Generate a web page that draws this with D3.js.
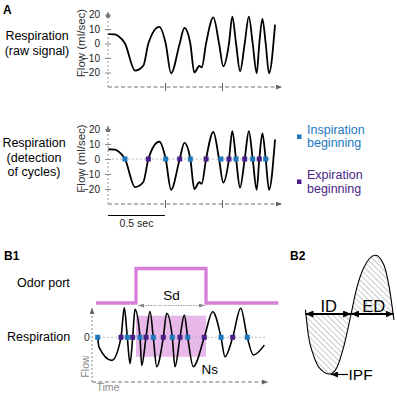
<!DOCTYPE html>
<html><head><meta charset="utf-8">
<script src="https://cdn.jsdelivr.net/npm/d3@7"></script>
<style>
body{margin:0;background:#fff}
svg{display:block}
text{font-family:"Liberation Sans",Arial,Helvetica,sans-serif}
</style>
</head><body>
<svg id="c" width="397" height="393"></svg>
<script>
// ---------- DATA ----------
// Panel A: respiration signal (time in s, flow in ml/sec)
const respTime = [0.003, 0.06, 0.09, 0.149, 0.237, 0.31, 0.354, 0.45, 0.506, 0.553, 0.629, 0.67, 0.722, 0.757, 0.801, 0.822, 0.86, 0.924, 0.974, 1.011, 1.061, 1.09, 1.123, 1.158, 1.199, 1.235, 1.269, 1.304, 1.327, 1.354, 1.383, 1.412, 1.465];
const respFlow = [6.5, 6.3, 5.2, 0, -18.7, -15.3, 0, 11.5, 0, -20.5, 0, 10.8, 0, -20, -15.5, -16.5, 0, 18, 0, -15.8, 0, 18.5, 0, -19.1, 0, 18.5, 0, -20.5, 0, 17, 0, -20.5, 13];
const inspTimes = [0.149, 0.506, 0.722, 0.991, 1.123, 1.269, 1.383];
const expTimes = [0.354, 0.629, 0.86, 1.061, 1.199, 1.327];
const flowTicks = [-20, -10, 0, 10, 20];
const timeTicks = [0.5, 1.0];
const scaleBar = [0, 0.5];

// Panel B1
const b1Time = [0.057, 0.07, 0.197, 0.29, 0.323, 0.353, 0.38, 0.407, 0.43, 0.48, 0.497, 0.54, 0.58, 0.613, 0.647, 0.713, 0.747, 0.803, 0.83, 0.88, 0.923, 0.957, 1.013, 1.123, 1.207, 1.29, 1.33, 1.407, 1.487, 1.553, 1.613, 1.723];
const b1Flow = [0, -0.33, -0.77, 0, 0.98, 0, -0.88, 0, 0.93, 0, -0.94, 0, 0.86, 0, -0.98, 0, 0.8, 0, -0.98, 0, 0.74, 0, -0.98, 0, 0.85, 0, -0.65, 0, 0.97, 0, -0.59, -0.26];
const b1Insp = [0.057, 0.353, 0.48, 0.613, 0.803, 0.957, 1.29, 1.553];
const b1Exp = [0.29, 0.407, 0.54, 0.713, 0.88, 1.123, 1.407];
const odorTime = [0.04, 0.44, 0.44, 1.14, 1.14, 1.863];
const odorState = [0, 0, 1, 1, 0, 0];
const stimWindow = [0.44, 1.14];
const stimFlowBand = [-0.65, 0.72];

// Panel B2 (one schematic cycle)
const b2Phase = [0, 0.032, 0.089, 0.165, 0.278, 0.354, 0.43, 0.518, 0.582, 0.658, 0.795, 0.89, 0.953, 1.005];
const b2Flow = [0.07, -0.35, -0.68, -0.91, -1.0, -0.9, -0.57, 0, 0.43, 0.76, 0.98, 0.82, 0.43, -0.1];
const b2Split = 0.518;
const b2End = 1.0;

// ---------- DRAW ----------
const svg = d3.select("#c");
const BLUE = "#1b78bf", PURPLE = "#4a1e88", PINK = "#d77ed8", PINKFILL = "#e9b8ea";
const AX = "#707070";

const defs = svg.append("defs");
function arrowMarker(id, color, w, h) {
  defs.append("marker").attr("id", id)
    .attr("viewBox", `0 0 ${w} ${h}`).attr("refX", w).attr("refY", h / 2)
    .attr("markerWidth", w).attr("markerHeight", h)
    .attr("markerUnits", "userSpaceOnUse").attr("orient", "auto-start-reverse")
    .append("path").attr("d", `M0,0L${w},${h / 2}L0,${h}Z`).attr("fill", color);
}
arrowMarker("arrG", "#666", 6, 5);
arrowMarker("arrS", "#888", 6, 4);
arrowMarker("arrK", "#000", 8, 7);
arrowMarker("arrK2", "#000", 7, 6);

const pat = defs.append("pattern").attr("id", "hatch").attr("patternUnits", "userSpaceOnUse")
  .attr("width", 4).attr("height", 4).attr("patternTransform", "rotate(-45)");
pat.append("line").attr("x1", 0).attr("y1", 0).attr("x2", 0).attr("y2", 4)
  .attr("stroke", "#777").attr("stroke-width", 0.8);

function txt(x, y, s, opt = {}) {
  return svg.append("text").attr("x", x).attr("y", y).text(s)
    .attr("font-size", opt.size || 12).attr("fill", opt.color || "#000")
    .attr("text-anchor", opt.anchor || "start")
    .attr("font-weight", opt.weight || "normal");
}

// ----- Panel A -----
txt(3, 14, "A", { size: 12, weight: "bold" });
const xA = d3.scaleLinear().domain([0, 1.526]).range([108, 282]);
const panelsA = [
  { yr: [72.5, 14.5], base: 87, labels: ["Respiration", "(raw signal)"], ly: [40, 55], lx: 37, markers: false },
  { yr: [189, 129], base: 204, labels: ["Respiration", "(detection", "of cycles)"], ly: [147, 161.5, 176], lx: 34, markers: true }
];
panelsA.forEach(p => {
  const y = d3.scaleLinear().domain([-20, 20]).range(p.yr);
  const g = svg.append("g");
  // y axis line with arrow
  g.append("line").attr("x1", xA(0)).attr("x2", xA(0)).attr("y1", p.base).attr("y2", y(20) - 3)
    .attr("stroke", "#999").attr("stroke-width", 1).attr("stroke-dasharray", "2,2")
    .attr("marker-end", "url(#arrG)");
  // x axis line with arrow
  g.append("line").attr("x1", xA(0)).attr("x2", xA(1.526)).attr("y1", p.base).attr("y2", p.base)
    .attr("stroke", AX).attr("stroke-width", 1).attr("stroke-dasharray", "4,2.5")
    .attr("marker-end", "url(#arrG)");
  // y ticks
  const ya = g.append("g").attr("transform", `translate(${xA(0)},0)`)
    .call(d3.axisLeft(y).tickValues(flowTicks).tickSize(3).tickPadding(5));
  ya.select(".domain").remove();
  ya.selectAll(".tick line").attr("x1", -3).attr("x2", 3).attr("stroke", "#888");
  ya.selectAll(".tick text").attr("font-size", 10).attr("fill", "#222")
    .attr("font-family", '"Liberation Sans",Arial,sans-serif');
  // x ticks
  const xa = g.append("g").attr("transform", `translate(0,${p.base})`)
    .call(d3.axisBottom(xA).tickValues(timeTicks).tickSize(4).tickFormat(""));
  xa.select(".domain").remove();
  xa.selectAll(".tick line").attr("y1", -4).attr("y2", 4).attr("stroke", "#666");
  // y label
  const yc = (p.yr[0] + p.yr[1]) / 2 - 0.5;
  svg.append("text").attr("transform", `translate(85,${yc}) rotate(-90)`)
    .attr("text-anchor", "middle").attr("font-size", 11.5).attr("fill", "#333")
    .text("Flow (ml/sec)");
  // row labels
  p.labels.forEach((s, i) => txt(p.lx, p.ly[i], s, { size: 12.5, anchor: "middle" }));
  // zero line
  if (p.markers) {
    g.append("line").attr("x1", xA(0)).attr("x2", xA(1.47)).attr("y1", y(0)).attr("y2", y(0))
      .attr("stroke", "#bbb").attr("stroke-width", 1).attr("stroke-dasharray", "2,2");
  }
  // signal
  const line = d3.line().x((d, i) => xA(respTime[i])).y((d, i) => y(respFlow[i])).curve(d3.curveMonotoneX);
  g.append("path").datum(respTime).attr("d", line).attr("fill", "none")
    .attr("stroke", "#000").attr("stroke-width", 1.8);
  if (p.markers) {
    g.selectAll(".ins").data(inspTimes).join("rect").attr("x", d => xA(d) - 2.5).attr("y", y(0) - 2.5)
      .attr("width", 5).attr("height", 5).attr("fill", BLUE);
    g.selectAll(".exp").data(expTimes).join("rect").attr("x", d => xA(d) - 2.5).attr("y", y(0) - 2.5)
      .attr("width", 5).attr("height", 5).attr("fill", PURPLE);
    // scale bar
    g.append("line").attr("x1", xA(scaleBar[0])).attr("x2", xA(scaleBar[1])).attr("y1", 215.5).attr("y2", 215.5)
      .attr("stroke", "#000").attr("stroke-width", 1.2);
    txt(xA((scaleBar[0] + scaleBar[1]) / 2), 227, "0.5 sec", { size: 10.5, anchor: "middle", color: "#222" });
  }
});
// legend
svg.append("rect").attr("x", 297).attr("y", 134.5).attr("width", 4.5).attr("height", 4.5).attr("fill", BLUE);
txt(307, 133.5, "Inspiration", { size: 12.5, color: BLUE });
txt(307, 147, "beginning", { size: 12.5, color: BLUE });
svg.append("rect").attr("x", 297).attr("y", 179.5).attr("width", 4.5).attr("height", 4.5).attr("fill", PURPLE);
txt(307, 178.5, "Expiration", { size: 12.5, color: PURPLE });
txt(307, 192.5, "beginning", { size: 12.5, color: PURPLE });

// ----- Panel B1 -----
txt(4, 260, "B1", { size: 12, weight: "bold" });
txt(17, 287, "Odor port", { size: 12.5 });
txt(7, 340.5, "Respiration", { size: 12.5 });
const xB = d3.scaleLinear().domain([0, 1.76]).range([92, 268]);
const yB = d3.scaleLinear().domain([-1, 1]).range([367.3, 307.3]);
const yO = d3.scaleLinear().domain([0, 1]).range([303, 268.5]);
// stimulus band
svg.append("rect").attr("x", xB(stimWindow[0])).attr("y", yB(stimFlowBand[1]))
  .attr("width", xB(stimWindow[1]) - xB(stimWindow[0])).attr("height", yB(stimFlowBand[0]) - yB(stimFlowBand[1]))
  .attr("fill", PINKFILL);
// odor trace
svg.append("path").datum(odorTime)
  .attr("d", d3.line().x((d, i) => xB(odorTime[i])).y((d, i) => yO(odorState[i])))
  .attr("fill", "none").attr("stroke", PINK).attr("stroke-width", 3.3);
// Sd arrow
svg.append("line").attr("x1", xB(stimWindow[0]) + 2).attr("x2", xB(stimWindow[1]) - 1)
  .attr("y1", 305.5).attr("y2", 305.5).attr("stroke", "#999").attr("stroke-width", 0.9)
  .attr("stroke-dasharray", "1.5,1")
  .attr("marker-start", "url(#arrS)").attr("marker-end", "url(#arrS)");
txt((xB(stimWindow[0]) + xB(stimWindow[1])) / 2 + 0.5, 300, "Sd", { size: 13.5, anchor: "middle" });
// axes
svg.append("line").attr("x1", xB(0)).attr("x2", xB(0)).attr("y1", 382).attr("y2", 308)
  .attr("stroke", "#888").attr("stroke-width", 1).attr("stroke-dasharray", "2,2").attr("marker-end", "url(#arrG)");
svg.append("line").attr("x1", xB(0)).attr("x2", xB(1.76)).attr("y1", 382).attr("y2", 382)
  .attr("stroke", AX).attr("stroke-width", 1).attr("stroke-dasharray", "4,2.5").attr("marker-end", "url(#arrG)");
svg.append("line").attr("x1", xB(0.03)).attr("x2", xB(1.73)).attr("y1", yB(0)).attr("y2", yB(0))
  .attr("stroke", "#aaa").attr("stroke-width", 0.8).attr("stroke-dasharray", "2,2");
txt(87, 341, "0", { size: 10.5, anchor: "middle", color: "#333" });
svg.append("text").attr("transform", `translate(88.5,366.5) rotate(-90)`)
  .attr("text-anchor", "middle").attr("font-size", 10.5).attr("fill", "#8a8a8a").text("Flow");
txt(96.5, 390.5, "Time", { size: 10.5, color: "#8a8a8a" });
// signal
svg.append("path").datum(b1Time)
  .attr("d", d3.line().x((d, i) => xB(b1Time[i])).y((d, i) => yB(b1Flow[i])).curve(d3.curveMonotoneX))
  .attr("fill", "none").attr("stroke", "#000").attr("stroke-width", 1.6);
svg.selectAll(".b1i").data(b1Insp).join("rect").attr("x", d => xB(d) - 2.5).attr("y", yB(0) - 2.5)
  .attr("width", 5).attr("height", 5).attr("fill", BLUE);
svg.selectAll(".b1e").data(b1Exp).join("rect").attr("x", d => xB(d) - 2.5).attr("y", yB(0) - 2.5)
  .attr("width", 5).attr("height", 5).attr("fill", PURPLE);
txt(201.5, 373.5, "Ns", { size: 13.5 });

// ----- Panel B2 -----
txt(290, 260, "B2", { size: 12, weight: "bold" });
const x2 = d3.scaleLinear().domain([0, 1]).range([305.5, 393.5]);
const y2 = d3.scaleLinear().domain([-1, 1]).range([374, 254]);
svg.append("path").datum(b2Phase)
  .attr("d", d3.area().x((d, i) => x2(b2Phase[i])).y0(y2(0)).y1((d, i) => y2(b2Flow[i])).curve(d3.curveMonotoneX))
  .attr("fill", "url(#hatch)");
svg.append("path").datum(b2Phase)
  .attr("d", d3.line().x((d, i) => x2(b2Phase[i])).y((d, i) => y2(b2Flow[i])).curve(d3.curveMonotoneX))
  .attr("fill", "none").attr("stroke", "#000").attr("stroke-width", 1.1);
svg.append("line").attr("x1", x2(0)).attr("x2", x2(b2Split)).attr("y1", y2(0)).attr("y2", y2(0))
  .attr("stroke", "#000").attr("stroke-width", 1.8)
  .attr("marker-start", "url(#arrK)").attr("marker-end", "url(#arrK)");
svg.append("line").attr("x1", x2(b2Split)).attr("x2", x2(b2End)).attr("y1", y2(0)).attr("y2", y2(0))
  .attr("stroke", "#000").attr("stroke-width", 1.8)
  .attr("marker-start", "url(#arrK)").attr("marker-end", "url(#arrK)");
txt((x2(0) + x2(b2Split)) / 2 + 0.5, 311.5, "ID", { size: 16.5, anchor: "middle" });
txt((x2(b2Split) + x2(b2End)) / 2 + 1.5, 311.5, "ED", { size: 16.5, anchor: "middle" });
const tr = b2Flow.indexOf(d3.min(b2Flow));
svg.append("line").attr("x1", 348).attr("x2", x2(b2Phase[tr]) + 1).attr("y1", y2(-1) + 0.5).attr("y2", y2(-1) + 0.5)
  .attr("stroke", "#000").attr("stroke-width", 1.2).attr("marker-end", "url(#arrK2)");
txt(348.5, 380, "IPF", { size: 15.5 });
</script>
</body></html>
